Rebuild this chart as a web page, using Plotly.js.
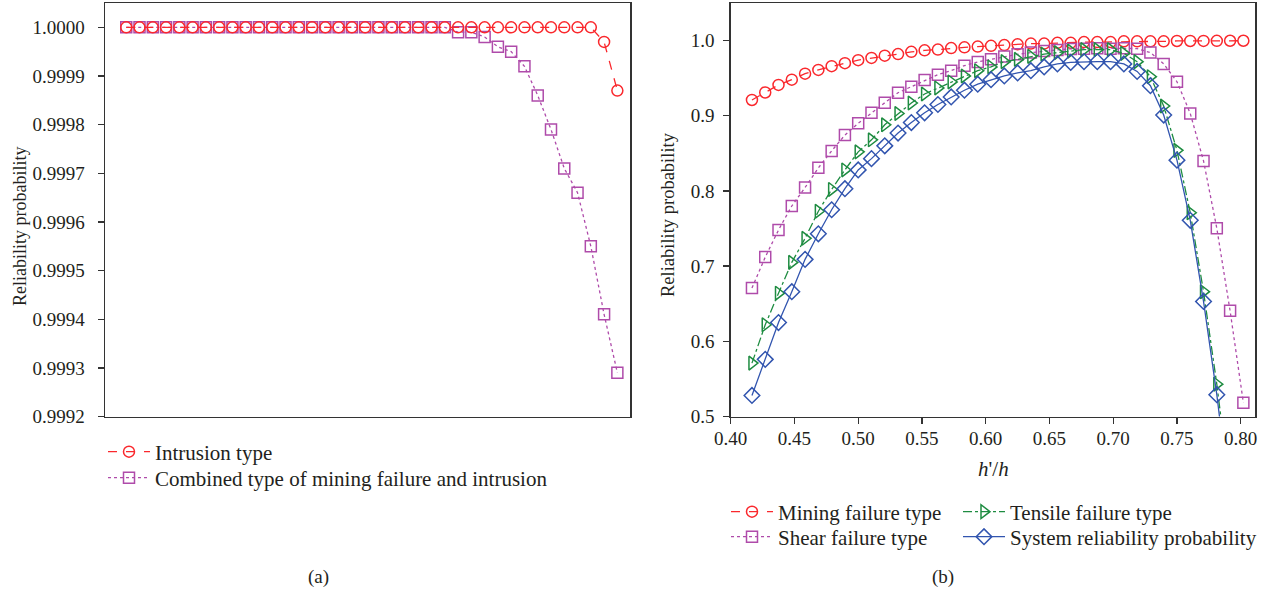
<!DOCTYPE html>
<html>
<head>
<meta charset="utf-8">
<script src="https://cdn.plot.ly/plotly-3.0.1.min.js"></script>
<style>html,body{margin:0;padding:0;background:#fff;}#chart{width:1268px;height:592px;}</style>
</head>
<body>
<div id="chart"></div>
<script>
// h'/h values (shared by both panels)
const ratio = [0.41667,0.42708,0.43750,0.44792,0.45833,0.46875,0.47917,0.48958,0.50000,0.51042,
  0.52083,0.53125,0.54167,0.55208,0.56250,0.57292,0.58333,0.59375,0.60417,0.61458,
  0.62500,0.63542,0.64583,0.65625,0.66667,0.67708,0.68750,0.69792,0.70833,0.71875,
  0.72917,0.73958,0.75000,0.76042,0.77083,0.78125,0.79167,0.80208];

// Panel (a)
const intrusionType = [1,1,1,1,1,1,1,1,1,1, 1,1,1,1,1,1,1,1,1,1, 1,1,1,1,1,1,1,1,1,1,
  1,1,1,1,1,1,0.99997,0.99987];
const combinedType = [1,1,1,1,1,1,1,1,1,1, 1,1,1,1,1,1,1,1,1,1, 1,1,1,1,1,
  0.99999,0.99999,0.99998,0.99996,0.99995,0.99992,0.99986,0.99979,0.99971,0.99966,
  0.99955,0.99941,0.99929];

// Panel (b)
const miningFailure = [0.921,0.931,0.941,0.948,0.956,0.961,0.966,0.970,0.974,0.977,
  0.980,0.982,0.985,0.987,0.988,0.990,0.991,0.992,0.993,0.994,
  0.995,0.996,0.996,0.997,0.997,0.998,0.998,0.998,0.999,0.999,
  0.999,0.999,0.9995,0.9995,0.9996,0.9997,0.9998,0.9998];
const shearFailure = [0.671,0.712,0.748,0.780,0.8045,0.8307,0.8533,0.8743,0.8899,0.904,
  0.9173,0.9307,0.9387,0.9476,0.9547,0.960,0.9667,0.9716,0.9752,0.9787,
  0.9818,0.984,0.9863,0.9876,0.9889,0.9893,0.9898,0.9893,0.9898,0.9893,
  0.984,0.969,0.9453,0.9031,0.840,0.7503,0.6405,0.5183];
const tensileFailure = [0.571,0.622,0.664,0.705,0.737,0.773,0.802,0.828,0.852,0.868,
  0.888,0.903,0.917,0.929,0.937,0.945,0.953,0.960,0.965,0.972,
  0.975,0.979,0.982,0.984,0.986,0.988,0.988,0.988,0.983,0.972,
  0.952,0.913,0.854,0.771,0.666,0.543,0.40,0.25];
const systemReliability = [0.528,0.576,0.625,0.666,0.709,0.743,0.775,0.803,0.828,0.843,
  0.860,0.877,0.891,0.904,0.915,0.925,0.934,0.942,0.948,0.953,
  0.957,0.960,0.965,0.969,0.971,0.972,0.972,0.972,0.969,0.959,
  0.940,0.901,0.841,0.761,0.653,0.529,0.39,0.24];

const yTicksA = [0.9992,0.9993,0.9994,0.9995,0.9996,0.9997,0.9998,0.9999,1.0000];
const yTicksB = [0.5,0.6,0.7,0.8,0.9,1.0];
const xTicksB = [0.40,0.45,0.50,0.55,0.60,0.65,0.70,0.75,0.80];

const RED = 'rgb(250,40,45)', PINK = 'rgb(175,75,170)', GREEN = 'rgb(30,140,65)', BLUE = 'rgb(50,85,175)';
const MS = 11;

const traces = [
  {x: ratio, y: combinedType, xaxis:'x', yaxis:'y', mode:'lines+markers', name:'Combined type of mining failure and intrusion',
   line:{color:PINK, dash:'dot', width:1.3}, marker:{symbol:'square-open', size:MS, color:PINK, line:{width:1.5}}, legend:'legend2', showlegend:true},
  {x: ratio, y: intrusionType, xaxis:'x', yaxis:'y', mode:'lines+markers', name:'Intrusion type',
   line:{color:RED, dash:'dash', width:1.3}, marker:{symbol:'circle-open', size:MS, color:RED, line:{width:1.5}}, legend:'legend', showlegend:true},

  {x: ratio, y: miningFailure, xaxis:'x2', yaxis:'y2', mode:'lines+markers', name:'Mining failure type',
   line:{color:RED, dash:'dash', width:1.3}, marker:{symbol:'circle-open', size:MS, color:RED, line:{width:1.5}}, legend:'legend3', showlegend:true},
  {x: ratio, y: shearFailure, xaxis:'x2', yaxis:'y2', mode:'lines+markers', name:'Shear failure type',
   line:{color:PINK, dash:'dot', width:1.3}, marker:{symbol:'square-open', size:MS, color:PINK, line:{width:1.5}}, legend:'legend4', showlegend:true},
  {x: ratio, y: tensileFailure, xaxis:'x2', yaxis:'y2', mode:'lines+markers', name:'Tensile failure type',
   line:{color:GREEN, dash:'dashdot', width:1.3}, marker:{symbol:'triangle-right-open', size:MS+1, color:GREEN, line:{width:1.5}}, legend:'legend5', showlegend:true},
  {x: ratio, y: systemReliability, xaxis:'x2', yaxis:'y2', mode:'lines+markers', name:'System reliability probability',
   line:{color:BLUE, dash:'solid', width:1.3}, marker:{symbol:'diamond-open', size:MS+1, color:BLUE, line:{width:1.5}}, legend:'legend6', showlegend:true}
];

const FONT = 'Liberation Serif, DejaVu Serif, serif';
const TXT = '#231f20';
const axisCommon = {showline:true, mirror:true, linecolor:'#333', linewidth:1.5, showgrid:false, zeroline:false,
  tickcolor:'#333', tickwidth:1.3, ticklen:6, tickfont:{family:FONT, size:19, color:TXT}};

const W = 1268, H = 592;
function leg(mx, yc) {
  return {visible:true, x:(mx-20)/W, y:1-yc/H, xanchor:'left', yanchor:'middle', bgcolor:'rgba(0,0,0,0)', borderwidth:0,
    itemwidth:42, font:{family:FONT, size:21, color:TXT}};
}
const layout = {
  width:W, height:H, margin:{l:0,r:0,t:0,b:0},
  showlegend:true,
  paper_bgcolor:'#fff', plot_bgcolor:'#fff',
  font:{family:FONT, size:18, color:TXT},
  xaxis: Object.assign({}, axisCommon, {domain:[105/W, 630/W], range:[0.40,0.812], showticklabels:false, ticks:''}),
  yaxis: Object.assign({}, axisCommon, {domain:[1-416.5/H, 1-3/H], range:[0.9992,1.00005], tickvals:yTicksA,
    ticktext: yTicksA.map(v=>v.toFixed(4)), ticks:'outside', ticklabelstandoff:9}),
  xaxis2: Object.assign({}, axisCommon, {domain:[730.7/W, 1255/W], range:[0.40,0.8112], anchor:'y2', tickvals:xTicksB,
    ticktext: xTicksB.map(v=>v.toFixed(2)), ticks:'outside', ticklabelstandoff:-2}),
  yaxis2: Object.assign({}, axisCommon, {domain:[1-416.5/H, 1-3/H], range:[0.5,1.05], anchor:'x2', tickvals:yTicksB,
    ticktext: yTicksB.map(v=>v.toFixed(1)), ticks:'outside', ticklabelstandoff:5}),
  legend: leg(123, 452),
  legend2: leg(123, 478),
  legend3: leg(746, 512),
  legend4: leg(746, 537),
  legend5: leg(978, 512),
  legend6: leg(978, 537),
  annotations: [
    {xref:'paper', yref:'paper', x:20/W, y:1-227/H, text:'Reliability probability', textangle:-90, showarrow:false,
     xanchor:'center', yanchor:'middle', font:{family:FONT, size:18, color:TXT}},
    {xref:'paper', yref:'paper', x:668/W, y:1-215/H, text:'Reliability probability', textangle:-90, showarrow:false,
     xanchor:'center', yanchor:'middle', font:{family:FONT, size:18.5, color:TXT}},
    {xref:'paper', yref:'paper', x:993/W, y:1-469/H, text:"<i>h</i>'/<i>h</i>", showarrow:false,
     xanchor:'center', yanchor:'middle', font:{family:FONT, size:21, color:TXT}},
    {xref:'paper', yref:'paper', x:318/W, y:1-577/H, text:'(a)', showarrow:false,
     xanchor:'center', yanchor:'middle', font:{family:FONT, size:19, color:TXT}},
    {xref:'paper', yref:'paper', x:943/W, y:1-577/H, text:'(b)', showarrow:false,
     xanchor:'center', yanchor:'middle', font:{family:FONT, size:19, color:TXT}}
  ]
};

Plotly.newPlot('chart', traces, layout, {displayModeBar:false, staticPlot:true});
</script>
</body>
</html>
